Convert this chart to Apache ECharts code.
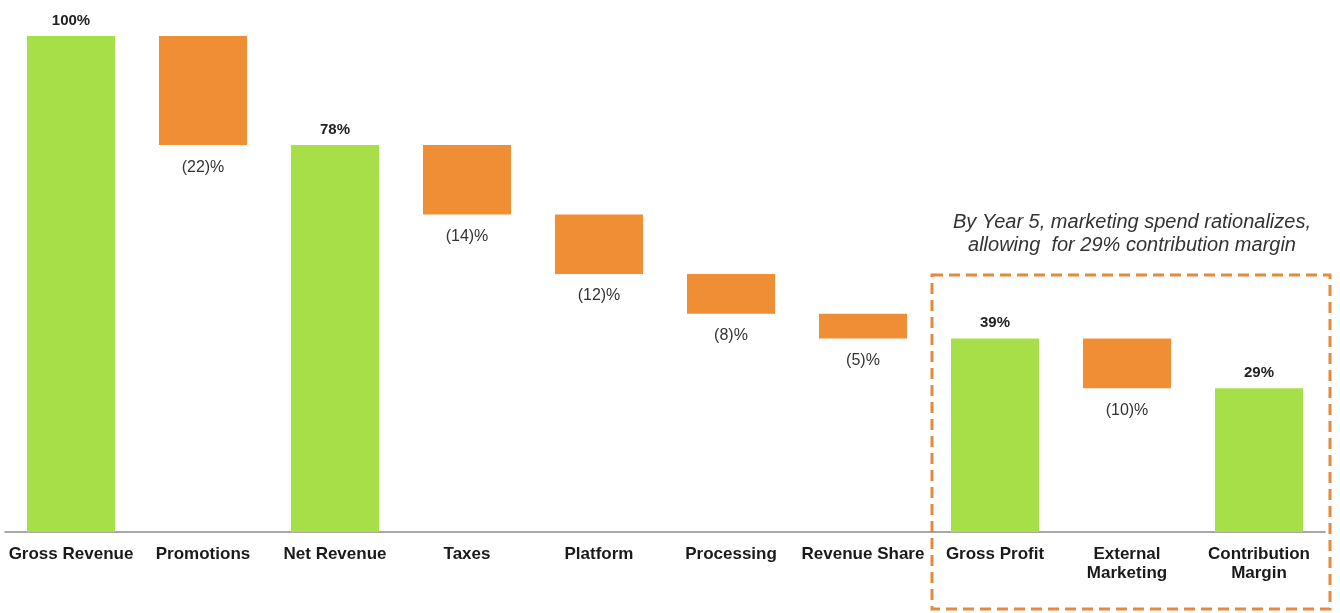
<!DOCTYPE html>
<html>
<head>
<meta charset="utf-8">
<script src="https://cdn.jsdelivr.net/npm/echarts@6/dist/echarts.min.js"></script>
<style>
html,body{margin:0;padding:0;background:#fff;}
#chart{width:1340px;height:613px;}
</style>
</head>
<body>
<div id="chart"></div>
<script>
const categories = ['Gross Revenue', 'Promotions', 'Net Revenue', 'Taxes', 'Platform', 'Processing', 'Revenue Share', 'Gross Profit', 'External\nMarketing', 'Contribution\nMargin'];
const values = [100, -22, 78, -14, -12, -8, -5, 39, -10, 29];
const isTotal = [true, false, true, false, false, false, false, true, false, true];
const annotationLines = ['By Year 5, marketing spend rationalizes,', 'allowing  for 29% contribution margin'];

const GREEN = '#A7DF48';
const ORANGE = '#F08E35';
const FONT = 'Liberation Sans, Arial, sans-serif';

let running = 0;
const baseData = [];
const barData = [];
values.forEach((v, i) => {
  if (isTotal[i]) {
    running = v;
    baseData.push(0);
    barData.push({
      value: v,
      itemStyle: { color: GREEN },
      label: { show: true, position: 'top', distance: 8, formatter: v + '%', fontWeight: 'bold', fontSize: 15, color: '#222' }
    });
  } else {
    running = running + v;
    baseData.push(running);
    barData.push({
      value: -v,
      itemStyle: { color: ORANGE },
      label: { show: true, position: 'bottom', distance: 14, formatter: '(' + (-v) + ')%', fontSize: 16, color: '#333' }
    });
  }
});

const chart = echarts.init(document.getElementById('chart'));
chart.setOption({
  animation: false,
  textStyle: { fontFamily: FONT },
  grid: { left: 5, right: 15, top: 36, bottom: 81, containLabel: false },
  xAxis: {
    type: 'category',
    data: categories,
    axisLine: { lineStyle: { color: '#8a8a8a', width: 1.5 } },
    axisTick: { show: false },
    axisLabel: { interval: 0, fontSize: 17, fontWeight: 'bold', color: '#1a1a1a', margin: 13, lineHeight: 19 }
  },
  yAxis: {
    type: 'value', min: 0, max: 100, show: false,
    splitLine: { show: false }
  },
  series: [
    {
      type: 'bar', stack: 'w', data: baseData, silent: true,
      itemStyle: { color: 'transparent' }, barCategoryGap: '33.3%'
    },
    {
      type: 'bar', stack: 'w', data: barData, barCategoryGap: '33.3%'
    }
  ],
  graphic: [
    {
      type: 'rect',
      shape: { x: 932, y: 275, width: 398, height: 334 },
      style: { fill: 'none', stroke: '#E58A3C', lineWidth: 3, lineDash: [11, 6] }
    },
    {
      type: 'text',
      x: 1132, y: 222,
      style: { text: annotationLines[0], fontSize: 20, fontStyle: 'italic', fill: '#333', align: 'center', verticalAlign: 'middle', fontFamily: FONT }
    },
    {
      type: 'text',
      x: 1132, y: 245,
      style: { text: annotationLines[1], fontSize: 20, fontStyle: 'italic', fill: '#333', align: 'center', verticalAlign: 'middle', fontFamily: FONT }
    }
  ]
});
</script>
</body>
</html>
